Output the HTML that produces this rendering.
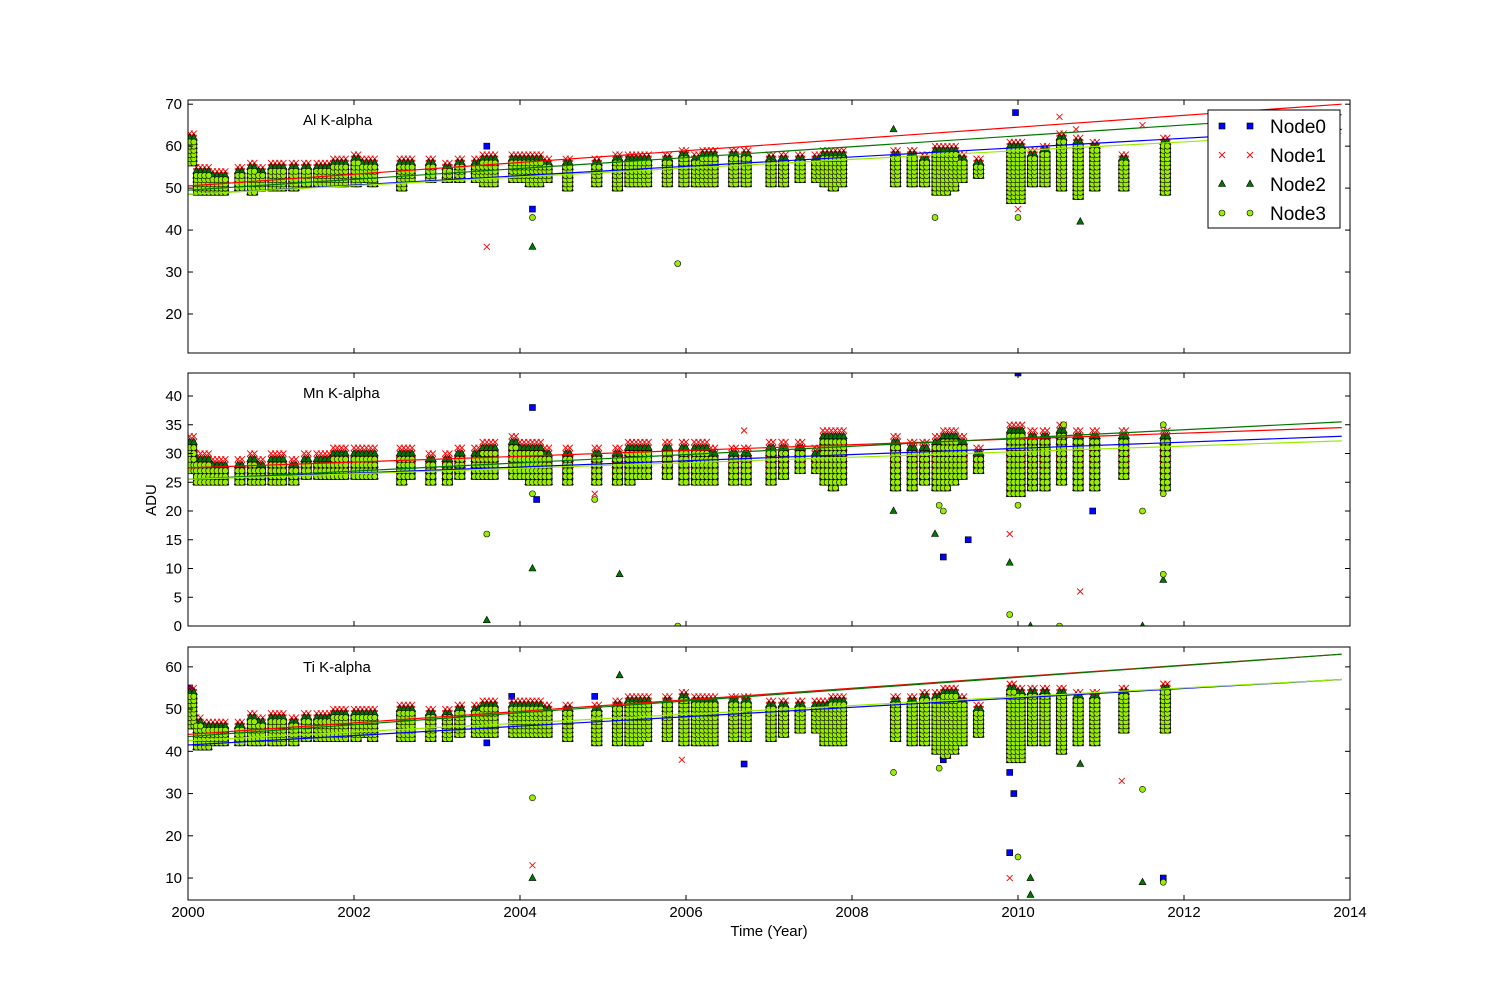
<!DOCTYPE html>
<html><head><meta charset="utf-8"><style>
body{margin:0;background:#fff}
svg{display:block;font-family:"Liberation Sans","DejaVu Sans",sans-serif}
</style></head><body>
<svg id="chart" width="1500" height="1000" viewBox="0 0 1500 1000" xmlns="http://www.w3.org/2000/svg"></svg>
<script>
// ---- data ----
const epochs=[2000.02,2000.1,2000.2,2000.3,2000.4,2000.6,2000.75,2000.85,2001.0,2001.1,2001.25,2001.4,2001.55,2001.65,2001.75,2001.85,2002.0,2002.1,2002.2,2002.55,2002.65,2002.9,2003.1,2003.25,2003.45,2003.55,2003.65,2003.9,2004.0,2004.1,2004.2,2004.3,2004.55,2004.9,2005.15,2005.3,2005.4,2005.5,2005.75,2005.95,2006.1,2006.2,2006.3,2006.55,2006.7,2007.0,2007.15,2007.35,2007.55,2007.65,2007.75,2007.85,2008.5,2008.7,2008.85,2009.0,2009.1,2009.2,2009.3,2009.5,2009.9,2010.0,2010.15,2010.3,2010.5,2010.7,2010.9,2011.25,2011.75];
const alLo=[56,49,49,49,49,50,49,50,50,50,50,51,51,51,51,51,51,52,51,50,52,52,52,52,52,51,51,52,52,51,51,52,50,51,50,51,51,51,51,51,51,51,51,51,51,51,51,52,52,51,50,51,51,51,51,49,49,50,52,53,47,47,51,51,50,48,50,50,49];
const alHi=[62,54,54,53,53,54,55,54,55,55,55,55,55,55,56,56,57,56,56,56,56,56,55,56,56,57,57,57,57,57,57,56,56,56,57,57,57,57,57,58,57,58,58,58,58,57,57,57,57,58,58,58,58,58,57,59,59,59,57,56,60,60,58,59,62,61,60,57,61];
const mnLo=[27,25,25,25,25,25,25,25,25,25,25,26,26,26,26,26,26,26,26,25,26,25,25,26,26,26,26,26,26,25,25,25,25,25,25,25,26,26,26,25,25,25,25,25,25,25,26,27,27,25,24,25,24,24,25,24,24,25,26,27,23,23,24,24,25,24,24,26,24];
const mnHi=[32,29,29,28,28,28,29,28,29,29,28,29,29,29,30,30,30,30,30,30,30,29,29,30,30,31,31,32,31,31,31,30,30,30,30,31,31,31,31,31,31,31,30,30,30,31,31,31,30,33,33,33,32,31,31,32,33,33,32,30,34,34,33,33,34,33,33,33,33];
const tiLo=[46,41,41,42,42,42,42,42,42,42,42,43,43,43,43,43,43,44,43,43,43,43,43,44,44,44,44,44,44,44,44,44,43,42,42,42,42,43,43,42,42,42,42,43,43,43,44,45,45,42,42,42,43,42,42,40,39,40,42,44,38,38,42,42,40,42,42,45,45];
const tiHi=[54,47,46,46,46,46,48,47,48,48,47,48,48,48,49,49,49,49,49,50,50,49,49,50,50,51,51,51,51,51,51,50,50,50,51,52,52,52,52,53,52,52,52,52,52,51,51,51,51,51,52,52,52,52,53,53,54,54,52,50,55,54,54,54,54,53,53,54,55];
// outliers: [year, value, node]
const alOut=[[2003.6,60,0],[2003.6,36,1],[2004.15,45,0],[2004.15,43,3],[2004.15,36,2],[2005.9,32,3],[2009.97,68,0],[2010.5,67,1],[2010.7,64,1],[2010.75,42,2],[2008.5,64,2],[2011.5,65,1],[2009.0,43,3],[2010.0,43,3],[2010.0,45,1]];
const mnOut=[[2003.6,16,3],[2003.6,1,2],[2004.15,38,0],[2004.15,23,3],[2004.2,22,0],[2004.15,10,2],[2004.9,23,1],[2004.9,22,3],[2005.2,9,2],[2005.9,0,3],[2006.7,34,1],[2008.5,20,2],[2009.0,16,2],[2009.05,21,3],[2009.1,20,3],[2009.1,12,0],[2009.4,15,0],[2009.9,16,1],[2009.9,11,2],[2009.9,2,3],[2010.0,21,3],[2010.0,44,0],[2010.15,0,2],[2010.5,0,3],[2010.75,6,1],[2010.9,20,0],[2010.55,35,3],[2011.5,20,3],[2011.5,0,2],[2011.75,9,3],[2011.75,8,2],[2011.75,23,3],[2011.75,35,3]];
const tiOut=[[2003.6,42,0],[2004.15,29,3],[2004.15,13,1],[2004.15,10,2],[2003.9,53,0],[2004.9,53,0],[2005.95,38,1],[2006.7,37,0],[2008.5,35,3],[2009.05,36,3],[2009.1,38,0],[2009.9,16,0],[2009.9,10,1],[2010.0,15,3],[2009.95,30,0],[2009.9,35,0],[2010.15,10,2],[2010.15,6,2],[2010.75,37,2],[2011.25,33,1],[2011.5,31,3],[2011.5,9,2],[2011.75,10,0],[2011.75,9,3],[2005.2,58,2],[2000.02,55,0]];
// fit lines per node: [value at 2000, value at 2013.9]
const alFit=[[48.5,64],[50.5,70],[49.5,67.5],[48.5,63]];
const mnFit=[[25.5,33],[27.5,34.5],[25.5,35.5],[25.5,32.2]];
const tiFit=[[41.5,57],[44,63],[43.5,63],[42.5,57]];
const nodeNames=["Node0","Node1","Node2","Node3"];
const xTicks=[2000,2002,2004,2006,2008,2010,2012,2014];
const alTicks=[20,30,40,50,60,70];
const mnTicks=[0,5,10,15,20,25,30,35,40];
const tiTicks=[10,20,30,40,50,60];

// ---- drawing ----
const NS="http://www.w3.org/2000/svg";
const svg=document.getElementById('chart');
function el(tag,attrs,parent){const e=document.createElementNS(NS,tag);for(const k in attrs)e.setAttribute(k,attrs[k]);(parent||svg).appendChild(e);return e;}
const X0=188,X1=1350;
const xs=t=>X0+(t-2000)/14*(X1-X0);
const colors=["#0000ff","#ff0000","#007700","#99ee00"];
function marker(g,node,x,y){
  let m;
  if(node===0){m=el('rect',{x:x-3,y:y-3,width:6,height:6,fill:'#0000ff',stroke:'#000','stroke-width':0.6},g);}
  else if(node===1){m=el('path',{d:`M${x-3},${y-3}L${x+3},${y+3}M${x-3},${y+3}L${x+3},${y-3}`,stroke:'#ff0000','stroke-width':0.9,fill:'none'},g);}
  else if(node===2){m=el('path',{d:`M${x},${y-4}L${x+3.5},${y+2.5}L${x-3.5},${y+2.5}Z`,fill:'#007700',stroke:'#000','stroke-width':0.6},g);}
  else {m=el('circle',{cx:x,cy:y,r:3,fill:'#99ee00',stroke:'#000','stroke-width':0.6},g);}
  
  
}
const panels=[
 {name:'al',title:'Al K-alpha',top:100,bot:353,ymin:10.7,ymax:71,lo:alLo,hi:alHi,out:alOut,fit:alFit,ticks:alTicks},
 {name:'mn',title:'Mn K-alpha',top:373,bot:626,ymin:0,ymax:44,lo:mnLo,hi:mnHi,out:mnOut,fit:mnFit,ticks:mnTicks},
 {name:'ti',title:'Ti K-alpha',top:647,bot:900,ymin:4.8,ymax:64.7,lo:tiLo,hi:tiHi,out:tiOut,fit:tiFit,ticks:tiTicks}
];
const offLo=[0,1,0,0],offHi=[-1,1,0,-1];
panels.forEach((p,pi)=>{
  const ys=v=>p.bot-(v-p.ymin)/(p.ymax-p.ymin)*(p.bot-p.top);
  const g=el('g',{'clip-path':`url(#clip${pi})`});
  
  
  const cp=el('clipPath',{id:'clip'+pi});
  el('rect',{x:X0,y:p.top,width:X1-X0,height:p.bot-p.top},cp);
  for(let n=0;n<4;n++){
    const sg=el('g',{},g);
    
    
    epochs.forEach((t,i)=>{
      for(let v=p.lo[i]+offLo[n];v<=p.hi[i]+offHi[n];v++){
        marker(sg,n,xs(t),ys(v));
        marker(sg,n,xs(t+0.05),ys(v));
      }
    });
    p.out.forEach(o=>{if(o[2]===n)marker(sg,n,xs(o[0]),ys(o[1]));});
  }
  p.fit.forEach((f,n)=>{
    const l=el('line',{x1:xs(2000),y1:ys(f[0]),x2:xs(2013.9),y2:ys(f[1]),stroke:colors[n],'stroke-width':1.2},g);
    
    
  });
  const fr=el('rect',{x:X0,y:p.top,width:X1-X0,height:p.bot-p.top,fill:'none',stroke:'#000','stroke-width':1});
  
  
  xTicks.forEach(t=>{
    const x=xs(t);
    el('line',{x1:x,y1:p.bot,x2:x,y2:p.bot-5,stroke:'#000'});
    el('line',{x1:x,y1:p.top,x2:x,y2:p.top+5,stroke:'#000'});
    if(pi===2){
      const tx=el('text',{x:x,y:917,'font-size':15,'text-anchor':'middle'});
      tx.textContent=t;
      
      
    }
  });
  p.ticks.forEach(v=>{
    const y=ys(v);
    el('line',{x1:X0,y1:y,x2:X0+5,y2:y,stroke:'#000'});
    el('line',{x1:X1,y1:y,x2:X1-5,y2:y,stroke:'#000'});
    const tx=el('text',{x:X0-6,y:y+5,'font-size':15,'text-anchor':'end'});
    tx.textContent=v;
    
    
  });
  const ti=el('text',{x:303,y:p.top+25,'font-size':15});
  ti.textContent=p.title;
  
  
});
// axis titles
const yl=el('text',{x:156,y:500,'font-size':15,'text-anchor':'middle',transform:'rotate(-90 156 500)'});
yl.textContent='ADU';


const xl=el('text',{x:769,y:936,'font-size':15,'text-anchor':'middle'});
xl.textContent='Time (Year)';


// legend
const lg=el('g',{});


el('rect',{x:1208,y:110,width:132,height:118,fill:'#fff',stroke:'#000','stroke-width':1},lg);
nodeNames.forEach((nm,n)=>{
  const y=126+n*29;
  const eg=el('g',{},lg);
  
  
  marker(eg,n,1222,y);
  marker(eg,n,1250,y);
  const t=el('text',{x:1270,y:y+7,'font-size':19},eg);
  t.textContent=nm;
});
</script>
</body></html>
